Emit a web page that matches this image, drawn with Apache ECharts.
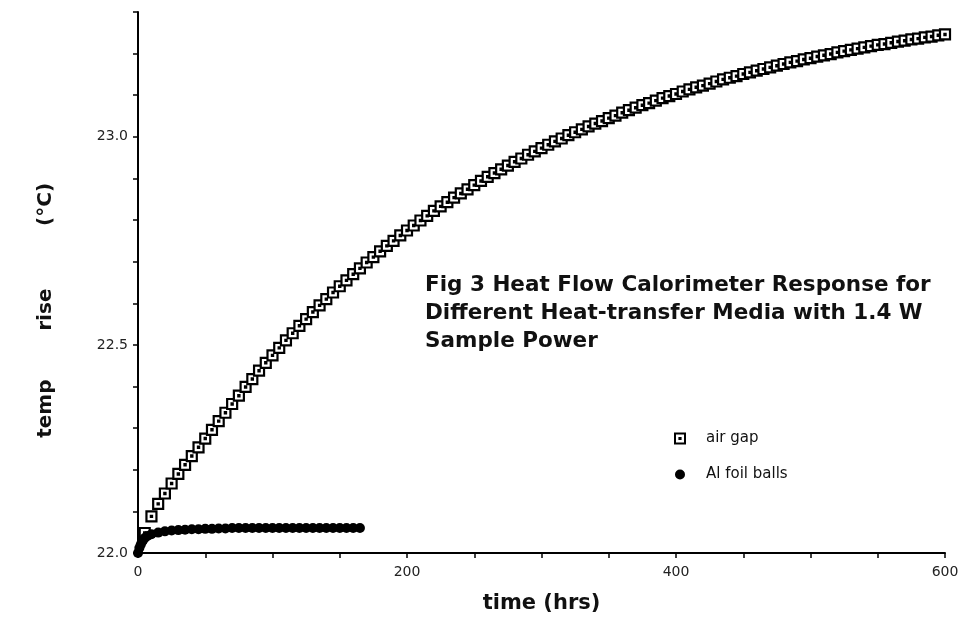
<!DOCTYPE html>
<html>
<head>
<meta charset="utf-8">
<script src="https://cdn.jsdelivr.net/npm/echarts@6/dist/echarts.min.js"></script>
<style>
  html, body { margin: 0; padding: 0; background: #fff; }
  #chart { width: 965px; height: 631px; }
</style>
</head>
<body>
<div id="chart"></div>
<script>
// air gap run (hrs, °C)
var airTime = [
  5, 10, 15, 20, 25, 30, 35, 40, 45, 50, 55, 60, 65, 70, 75, 80, 85, 90, 95, 100,
  105, 110, 115, 120, 125, 130, 135, 140, 145, 150, 155, 160, 165, 170, 175, 180, 185, 190, 195, 200,
  205, 210, 215, 220, 225, 230, 235, 240, 245, 250, 255, 260, 265, 270, 275, 280, 285, 290, 295, 300,
  305, 310, 315, 320, 325, 330, 335, 340, 345, 350, 355, 360, 365, 370, 375, 380, 385, 390, 395, 400,
  405, 410, 415, 420, 425, 430, 435, 440, 445, 450, 455, 460, 465, 470, 475, 480, 485, 490, 495, 500,
  505, 510, 515, 520, 525, 530, 535, 540, 545, 550, 555, 560, 565, 570, 575, 580, 585, 590, 595, 600
];
var airTemp = [
  22.048, 22.088, 22.118, 22.143, 22.167, 22.190, 22.212, 22.233, 22.254, 22.275,
  22.296, 22.317, 22.337, 22.358, 22.378, 22.399, 22.418, 22.438, 22.457, 22.475,
  22.493, 22.511, 22.528, 22.546, 22.562, 22.579, 22.595, 22.610, 22.626, 22.641,
  22.655, 22.670, 22.684, 22.698, 22.711, 22.725, 22.738, 22.750, 22.763, 22.775,
  22.787, 22.799, 22.810, 22.822, 22.833, 22.843, 22.854, 22.864, 22.874, 22.884,
  22.894, 22.904, 22.913, 22.922, 22.931, 22.940, 22.948, 22.957, 22.965, 22.973,
  22.981, 22.989, 22.996, 23.004, 23.011, 23.018, 23.025, 23.032, 23.038, 23.045,
  23.051, 23.058, 23.064, 23.070, 23.076, 23.081, 23.087, 23.093, 23.098, 23.103,
  23.109, 23.114, 23.119, 23.123, 23.128, 23.133, 23.138, 23.142, 23.146, 23.151,
  23.155, 23.159, 23.163, 23.167, 23.171, 23.175, 23.179, 23.182, 23.186, 23.189,
  23.193, 23.196, 23.199, 23.203, 23.206, 23.209, 23.212, 23.215, 23.218, 23.221,
  23.223, 23.226, 23.229, 23.231, 23.234, 23.236, 23.239, 23.241, 23.244, 23.246
];

// Al foil balls run
var foilTime = [
  0, 1, 2, 3, 4, 5, 7, 10, 15, 20, 25, 30, 35, 40, 45, 50, 55, 60, 65,
  70, 75, 80, 85, 90, 95, 100, 105, 110, 115, 120, 125, 130, 135, 140, 145, 150, 155, 160, 165
];
var foilTemp = [
  22.000, 22.012, 22.020, 22.027, 22.032, 22.036, 22.041, 22.045, 22.049, 22.052,
  22.054, 22.055, 22.056, 22.057, 22.057, 22.058, 22.058, 22.059, 22.059,
  22.060, 22.060, 22.060, 22.060, 22.060, 22.060, 22.060, 22.060, 22.060, 22.060,
  22.060, 22.060, 22.060, 22.060, 22.060, 22.060, 22.060, 22.060, 22.060, 22.060
];

var seriesNames = ['air gap', 'Al foil balls'];
var titleLines = [
  'Fig 3 Heat Flow Calorimeter Response for',
  'Different Heat-transfer Media with 1.4 W',
  'Sample Power'
];

function pairs(xs, ys) {
  var out = [];
  for (var i = 0; i < xs.length; i++) out.push([xs[i], ys[i]]);
  return out;
}

// square with a small dot in the middle
var boxSymbol = 'path://M0 0H10V10H0Z M4.4 4.4H5.6V5.6H4.4Z';
var boldFont = 'DejaVu Sans, sans-serif';

var chart = echarts.init(document.getElementById('chart'));
chart.setOption({
  animation: false,
  backgroundColor: '#fff',
  title: {
    text: titleLines.join('\n'),
    left: 420,
    top: 266,
    textStyle: {
      fontFamily: boldFont,
      fontSize: 21.5,
      fontWeight: 'bold',
      color: '#111',
      lineHeight: 28
    }
  },
  legend: {
    data: seriesNames,
    orient: 'vertical',
    left: 669,
    top: 426,
    itemWidth: 10,
    itemHeight: 10,
    itemGap: 21,
    textStyle: {
      fontFamily: 'DejaVu Sans, sans-serif',
      fontSize: 15,
      color: '#111',
      padding: [0, 0, 0, 16]
    }
  },
  grid: { left: 138, right: 20, top: 12, bottom: 78, containLabel: false },
  xAxis: {
    type: 'value',
    min: 0,
    max: 600,
    interval: 50,
    name: 'time (hrs)',
    nameLocation: 'middle',
    nameGap: 40,
    nameTextStyle: {
      fontFamily: boldFont,
      fontSize: 21,
      fontWeight: 'bold',
      color: '#111'
    },
    axisLine: { lineStyle: { color: '#000', width: 2 } },
    axisTick: { length: 5, lineStyle: { color: '#000', width: 1.5 } },
    axisLabel: {
      margin: 12,
      fontFamily: 'DejaVu Sans, sans-serif',
      fontSize: 14,
      color: '#222',
      formatter: function (v) { return v % 200 === 0 ? String(v) : ''; }
    },
    splitLine: { show: false }
  },
  yAxis: {
    type: 'value',
    min: 22,
    max: 23.3,
    interval: 0.1,
    name: 'temp       rise         (°C)        ',
    nameLocation: 'middle',
    nameGap: 82,
    nameTextStyle: {
      fontFamily: boldFont,
      fontSize: 20,
      fontWeight: 'bold',
      color: '#111'
    },
    axisLine: { show: true, lineStyle: { color: '#000', width: 2 } },
    axisTick: { show: true, length: 5, lineStyle: { color: '#000', width: 1.5 } },
    axisLabel: {
      margin: 10,
      fontFamily: 'DejaVu Sans, sans-serif',
      fontSize: 14,
      color: '#222',
      formatter: function (v) {
        var r = Math.round(v * 10);
        return r % 5 === 0 ? (r / 10).toFixed(1) : '';
      }
    },
    splitLine: { show: false }
  },
  series: [
    {
      name: seriesNames[0],
      type: 'scatter',
      symbol: boxSymbol,
      symbolSize: 10,
      itemStyle: { color: '#fff', borderColor: '#000', borderWidth: 2.2, opacity: 1 },
      data: pairs(airTime, airTemp)
    },
    {
      name: seriesNames[1],
      type: 'scatter',
      symbol: 'circle',
      symbolSize: 10,
      itemStyle: { color: '#000', opacity: 1 },
      data: pairs(foilTime, foilTemp)
    }
  ]
});
</script>
</body>
</html>
